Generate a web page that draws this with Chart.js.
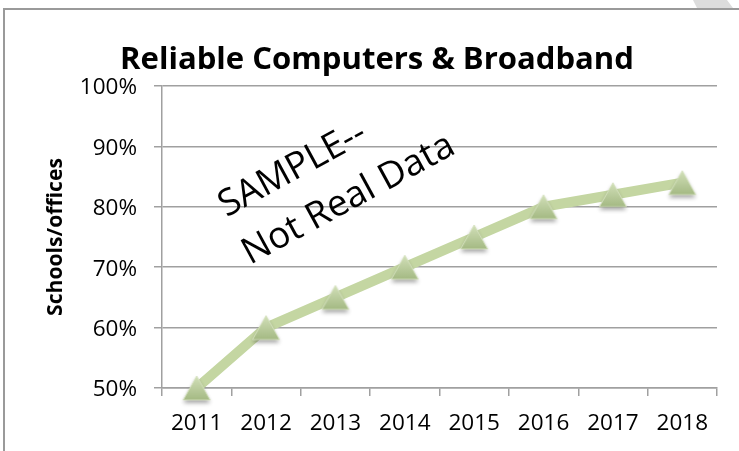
<!DOCTYPE html>
<html>
<head>
<meta charset="utf-8">
<script src="https://cdn.jsdelivr.net/npm/chart.js@4.4.0/dist/chart.umd.min.js"></script>
<style>
  html, body { margin: 0; padding: 0; background: #ffffff; }
  #wrap { width: 739px; height: 451px; }
</style>
</head>
<body>
<div id="wrap"><canvas id="c" width="739" height="451"></canvas></div>
<script>
// ---- data ----
const categories = ['2011', '2012', '2013', '2014', '2015', '2016', '2017', '2018'];
const values = [50, 60, 65, 70, 75, 80, 82, 84];
const yTickValues = [50, 60, 70, 80, 90, 100];
const chartTitle = 'Reliable Computers & Broadband';
const yAxisTitle = 'Schools/offices';
const watermarkLines = ['SAMPLE--', 'Not Real Data'];

// ---- styling ----
const FONT = "'Open Sans', sans-serif";
const GRID = '#a0a0a0';

function fitSize(text, weight, target) {
  const m = document.createElement('canvas').getContext('2d');
  m.font = weight + ' 100px ' + FONT;
  return 100 * target / m.measureText(text).width;
}
const titleSize = fitSize(chartTitle, 'bold', 514);
const yTitleSize = fitSize(yAxisTitle, 'bold', 158);
const wmSize = fitSize(watermarkLines[1], 'normal', 236);

// triangle marker image (bbox-centered, gradient + shadow)
function makeMarker() {
  const s = 46;
  const cv = document.createElement('canvas');
  cv.width = s; cv.height = s;
  const g = cv.getContext('2d');
  const cx = s / 2, cy = s / 2, w = 27, h = 24;
  g.save();
  g.shadowColor = 'rgba(0,0,0,0.35)';
  g.shadowBlur = 4;
  g.shadowOffsetY = 3;
  const grad = g.createLinearGradient(0, cy - h / 2, 0, cy + h / 2);
  grad.addColorStop(0, '#d2e0b9');
  grad.addColorStop(1, '#a4b983');
  g.fillStyle = grad;
  g.beginPath();
  g.moveTo(cx, cy - h / 2);
  g.lineTo(cx + w / 2, cy + h / 2);
  g.lineTo(cx - w / 2, cy + h / 2);
  g.closePath();
  g.fill();
  g.restore();
  g.strokeStyle = 'rgba(214,226,192,0.9)';
  g.lineWidth = 1;
  g.stroke();
  return cv;
}
const marker = makeMarker();

const decorPlugin = {
  id: 'decor',
  beforeDraw(chart) {
    const ctx = chart.ctx;
    ctx.save();
    ctx.fillStyle = '#dcdcdc';
    ctx.beginPath();
    ctx.moveTo(693, 0); ctx.lineTo(727, 0); ctx.lineTo(733, 8); ctx.lineTo(697, 8);
    ctx.closePath(); ctx.fill();
    ctx.strokeStyle = '#9a9a9a';
    ctx.lineWidth = 2;
    ctx.beginPath();
    ctx.moveTo(4, 451); ctx.lineTo(4, 9); ctx.lineTo(739, 9);
    ctx.stroke();
    ctx.restore();
  },
  afterDraw(chart) {
    const ctx = chart.ctx;
    ctx.save();
    ctx.translate(250, 265);
    ctx.rotate(-28.5 * Math.PI / 180);
    ctx.fillStyle = '#000';
    ctx.font = 'normal ' + wmSize + 'px ' + FONT;
    ctx.textAlign = 'left';
    ctx.textBaseline = 'alphabetic';
    ctx.fillText(watermarkLines[0], 2, -53);
    ctx.fillText(watermarkLines[1], 0, 0);
    ctx.restore();
  }
};

const titleTop = 60.4 - 0.6 * titleSize;
const titleBottom = 86 - titleTop - 1.2 * titleSize;

new Chart(document.getElementById('c'), {
  type: 'line',
  data: {
    labels: categories,
    datasets: [{
      data: values,
      borderColor: '#c4d6a2',
      borderWidth: 10,
      borderJoinStyle: 'round',
      tension: 0,
      fill: false,
      pointStyle: marker,
      pointRadius: 12,
      clip: false
    }]
  },
  options: {
    responsive: false,
    animation: false,
    layout: { padding: { left: 35, right: 20, top: 0, bottom: 0 } },
    plugins: {
      legend: { display: false },
      tooltip: { enabled: false },
      title: {
        display: true,
        text: chartTitle,
        color: '#000',
        font: { family: FONT, size: titleSize, weight: 'bold', lineHeight: 1.2 },
        padding: { top: titleTop, bottom: titleBottom }
      }
    },
    scales: {
      x: {
        offset: true,
        afterFit(scale) { scale.height = 63; },
        grid: { display: true, drawOnChartArea: false, drawTicks: true, tickLength: 8, offset: true, color: GRID, lineWidth: 1.5 },
        border: { display: true, color: GRID, width: 1.5 },
        ticks: { color: '#000', font: { family: FONT, size: 22.5 }, padding: 14, autoSkip: false, maxRotation: 0 }
      },
      y: {
        min: 50,
        max: 100,
        afterFit(scale) { scale.width = 127; },
        afterBuildTicks(scale) { scale.ticks = yTickValues.map(v => ({ value: v })); },
        grid: { color: GRID, lineWidth: 1.5, drawTicks: true, tickLength: 8 },
        border: { display: true, color: GRID, width: 1.5 },
        ticks: { color: '#000', font: { family: FONT, size: 22.5 }, padding: 17, labelOffset: 2, callback: v => v + '%' },
        title: {
          display: true,
          text: yAxisTitle,
          color: '#000',
          font: { family: FONT, size: yTitleSize, weight: 'bold', lineHeight: 1.2 },
          padding: { top: 55.5 - 35 - 0.6 * yTitleSize, bottom: 0 }
        }
      }
    }
  },
  plugins: [decorPlugin]
});
</script>
</body>
</html>
